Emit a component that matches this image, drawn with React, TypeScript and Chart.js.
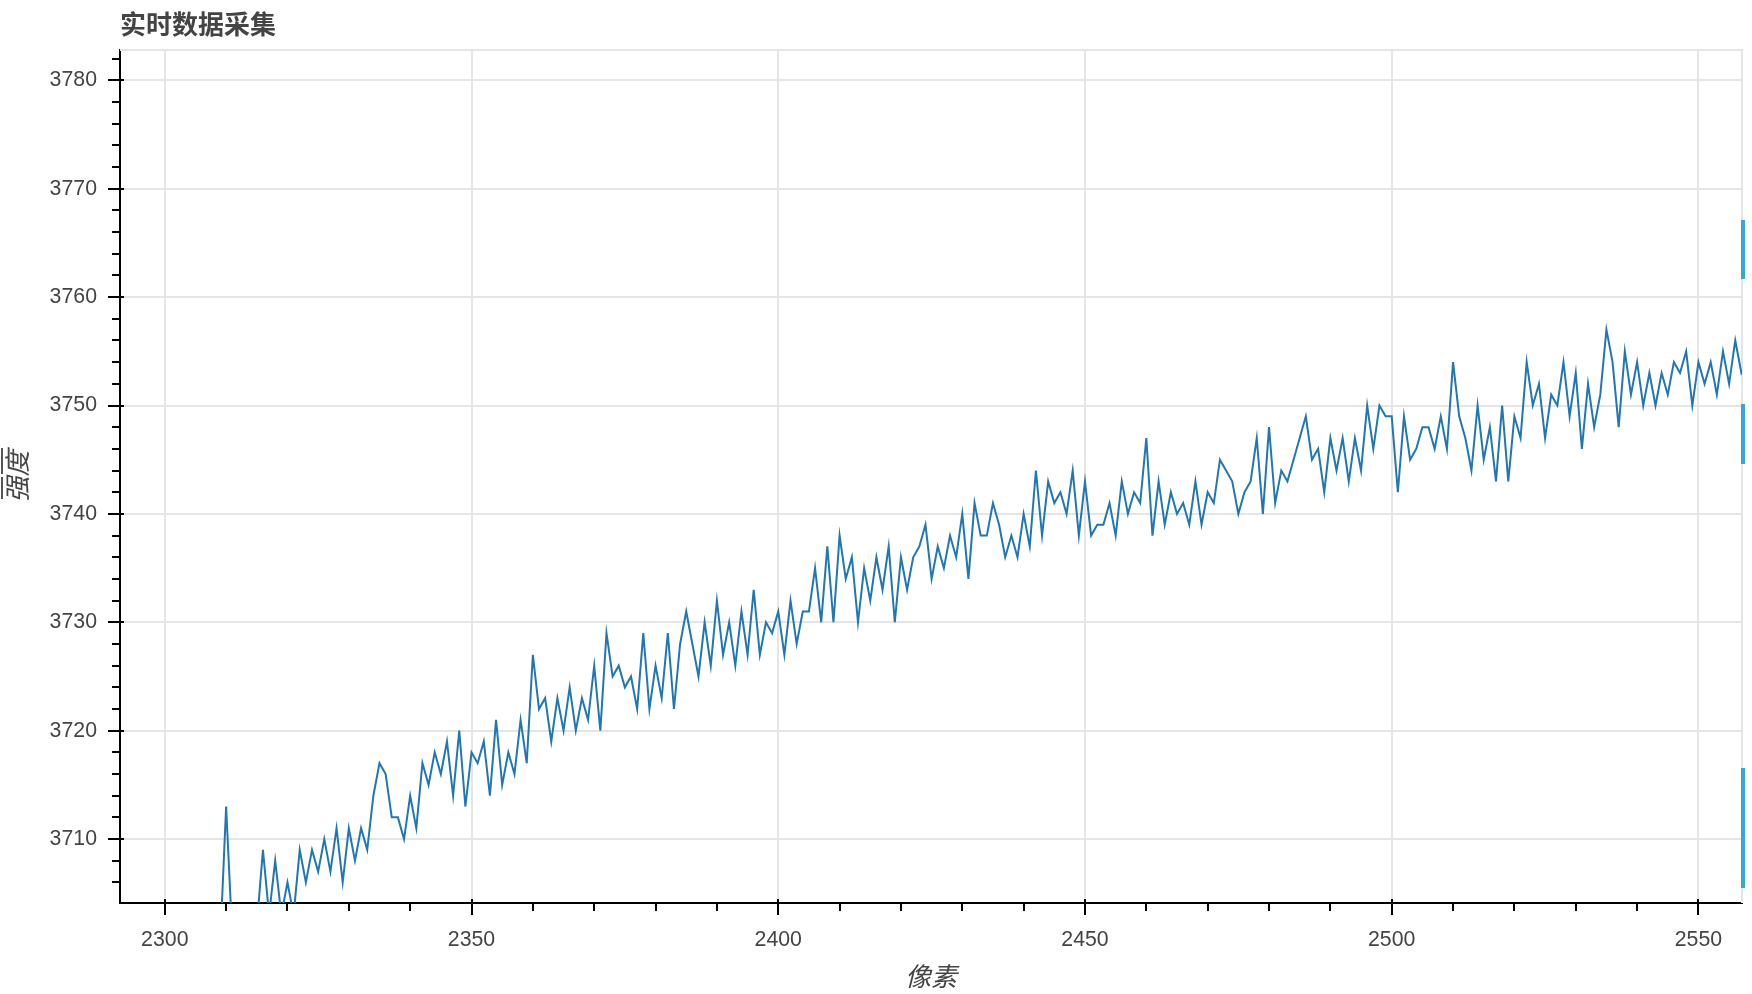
import React, { useEffect, useRef } from "react";
import { Chart, registerables } from "chart.js";

Chart.register(...registerables);

const chartTitle = "实时数据采集";
const xAxisTitle = "像素";
const yAxisTitle = "强度";

// first pixel index of the series; every following value is the next pixel
const pixelStart = 2309;
const intensity = [
  3700, 3713, 3701, 3700, 3700, 3701, 3702, 3709, 3703, 3708,
  3703, 3706, 3703, 3709, 3706, 3709, 3707, 3710, 3707, 3711,
  3706, 3711, 3708, 3711, 3709, 3714, 3717, 3716, 3712, 3712,
  3710, 3714, 3711, 3717, 3715, 3718, 3716, 3719, 3714, 3720,
  3713, 3718, 3717, 3719, 3714, 3721, 3715, 3718, 3716, 3721,
  3717, 3727, 3722, 3723, 3719, 3723, 3720, 3724, 3720, 3723,
  3721, 3726, 3720, 3729, 3725, 3726, 3724, 3725, 3722, 3729,
  3722, 3726, 3723, 3729, 3722, 3728, 3731, 3728, 3725, 3730,
  3726, 3732, 3727, 3730, 3726, 3731, 3727, 3733, 3727, 3730,
  3729, 3731, 3727, 3732, 3728, 3731, 3731, 3735, 3730, 3737,
  3730, 3738, 3734, 3736, 3730, 3735, 3732, 3736, 3733, 3737,
  3730, 3736, 3733, 3736, 3737, 3739, 3734, 3737, 3735, 3738,
  3736, 3740, 3734, 3741, 3738, 3738, 3741, 3739, 3736, 3738,
  3736, 3740, 3737, 3744, 3738, 3743, 3741, 3742, 3740, 3744,
  3738, 3743, 3738, 3739, 3739, 3741, 3738, 3743, 3740, 3742,
  3741, 3747, 3738, 3743, 3739, 3742, 3740, 3741, 3739, 3743,
  3739, 3742, 3741, 3745, 3744, 3743, 3740, 3742, 3743, 3747,
  3740, 3748, 3741, 3744, 3743, 3745, 3747, 3749, 3745, 3746,
  3742, 3747, 3744, 3747, 3743, 3747, 3744, 3750, 3746, 3750,
  3749, 3749, 3742, 3749, 3745, 3746, 3748, 3748, 3746, 3749,
  3746, 3754, 3749, 3747, 3744, 3750, 3745, 3748, 3743, 3750,
  3743, 3749, 3747, 3754, 3750, 3752, 3747, 3751, 3750, 3754,
  3749, 3753, 3746, 3752, 3748, 3751, 3757, 3754, 3748, 3755,
  3751, 3754, 3750, 3753, 3750, 3753, 3751, 3754, 3753, 3755,
  3750, 3754, 3752, 3754, 3751, 3755, 3752, 3756, 3753, 3754,
];

const xRange = [2292.7, 2557.1];
const yRange = [3704.1, 3782.8];
const xMajorTicks = [2300, 2350, 2400, 2450, 2500, 2550];
const yMajorTicks = [3710, 3720, 3730, 3740, 3750, 3760, 3770, 3780];
const xMinorStep = 10;
const yMinorStep = 2;

const FAMILY = "Helvetica, Arial, 'Liberation Sans', 'Noto Sans CJK SC', sans-serif";

const axisDecor = {
  id: "axisDecor",
  beforeDatasetsDraw(chart: any) {
    const { ctx, chartArea: a } = chart;
    ctx.save();
    ctx.strokeStyle = "#e5e5e5";
    ctx.lineWidth = 2;
    ctx.beginPath();
    ctx.moveTo(a.left, a.top);
    ctx.lineTo(a.right, a.top);
    ctx.lineTo(a.right, a.bottom);
    ctx.stroke();
    ctx.restore();
  },
  afterDraw(chart: any) {
    const { ctx, chartArea: a, scales } = chart;
    const xs = scales.x;
    const ys = scales.y;
    const majorSet = (arr: number[], v: number) => arr.some((m) => Math.abs(m - v) < 1e-6);
    ctx.save();
    ctx.strokeStyle = "#000";
    ctx.lineWidth = 2;
    ctx.beginPath();
    for (const v of yMajorTicks) {
      const y = Math.round(ys.getPixelForValue(v));
      ctx.moveTo(a.left - 12, y);
      ctx.lineTo(a.left + 4, y);
    }
    for (let v = Math.ceil(ys.min / yMinorStep) * yMinorStep; v <= ys.max; v += yMinorStep) {
      if (majorSet(yMajorTicks, v)) continue;
      const y = Math.round(ys.getPixelForValue(v));
      ctx.moveTo(a.left - 8, y);
      ctx.lineTo(a.left, y);
    }
    for (const v of xMajorTicks) {
      const x = Math.round(xs.getPixelForValue(v));
      ctx.moveTo(x, a.bottom - 4);
      ctx.lineTo(x, a.bottom + 12);
    }
    for (let v = Math.ceil(xs.min / xMinorStep) * xMinorStep; v <= xs.max; v += xMinorStep) {
      if (majorSet(xMajorTicks, v)) continue;
      const x = Math.round(xs.getPixelForValue(v));
      ctx.moveTo(x, a.bottom);
      ctx.lineTo(x, a.bottom + 8);
    }
    ctx.stroke();
    ctx.restore();
  },
};

export default function App() {
  const canvasRef = useRef<HTMLCanvasElement | null>(null);

  useEffect(() => {
    const canvas = canvasRef.current;
    if (!canvas) return;
    const points = intensity.map((v, i) => ({ x: pixelStart + i, y: v }));
    const chart = new Chart(canvas, {
      type: "line",
      data: {
        datasets: [
          {
            data: points,
            borderColor: "#1f77b4",
            borderWidth: 2,
            pointRadius: 0,
            tension: 0,
            fill: false,
          },
        ],
      },
      options: {
        animation: false,
        responsive: false,
        devicePixelRatio: 1,
        layout: { padding: { left: 0, right: 10, top: 0, bottom: 0 } },
        plugins: {
          legend: { display: false },
          tooltip: { enabled: false },
          title: {
            display: true,
            text: chartTitle,
            align: "start",
            fullSize: false,
            color: "#444",
            font: { family: FAMILY, size: 26, weight: "bold" },
            padding: { top: 11.6, bottom: 7.2 },
          },
        },
        scales: {
          x: {
            type: "linear",
            min: xRange[0],
            max: xRange[1],
            afterBuildTicks: (s: any) => {
              s.ticks = xMajorTicks.map((v) => ({ value: v }));
            },
            afterFit: (s: any) => {
              s.height = 91;
            },
            ticks: {
              callback: (v: any) => String(v),
              color: "#444",
              font: { family: FAMILY, size: 21.3 },
              padding: 24,
              maxRotation: 0,
              autoSkip: false,
            },
            grid: { color: "#e5e5e5", lineWidth: 2, drawTicks: false },
            border: { display: true, color: "#000", width: 2 },
            title: {
              display: true,
              text: xAxisTitle,
              color: "#444",
              font: { family: FAMILY, size: 26, style: "italic" },
              padding: { top: 0, bottom: 0 },
            },
          },
          y: {
            type: "linear",
            min: yRange[0],
            max: yRange[1],
            afterBuildTicks: (s: any) => {
              s.ticks = yMajorTicks.map((v) => ({ value: v }));
            },
            afterFit: (s: any) => {
              s.width = 120;
            },
            ticks: {
              callback: (v: any) => String(v),
              color: "#444",
              font: { family: FAMILY, size: 21.3 },
              padding: 23,
              autoSkip: false,
            },
            grid: { color: "#e5e5e5", lineWidth: 2, drawTicks: false },
            border: { display: true, color: "#000", width: 2 },
            title: {
              display: true,
              text: yAxisTitle,
              color: "#444",
              font: { family: FAMILY, size: 26, style: "italic" },
              padding: { top: 4, bottom: 0 },
            },
          },
        },
      } as any,
      plugins: [axisDecor],
    });
    return () => chart.destroy();
  }, []);

  const bar = (top: number, height: number) => (
    <div
      style={{
        position: "absolute",
        left: 1741,
        top,
        width: 4,
        height,
        background: "#34a8de",
      }}
    />
  );

  return (
    <div
      style={{
        position: "absolute",
        left: 0,
        top: 0,
        width: 1752,
        height: 994,
        background: "#fff",
        overflow: "hidden",
      }}
    >
      <canvas ref={canvasRef} width={1752} height={994} style={{ display: "block" }} />
      <div style={{ position: "absolute", left: 1, top: 448, width: 2, height: 26, background: "#555" }} />
      <div style={{ position: "absolute", left: 1, top: 477, width: 2, height: 22, background: "#555" }} />
      {bar(220, 59)}
      {bar(404, 60)}
      {bar(768, 120)}
    </div>
  );
}
